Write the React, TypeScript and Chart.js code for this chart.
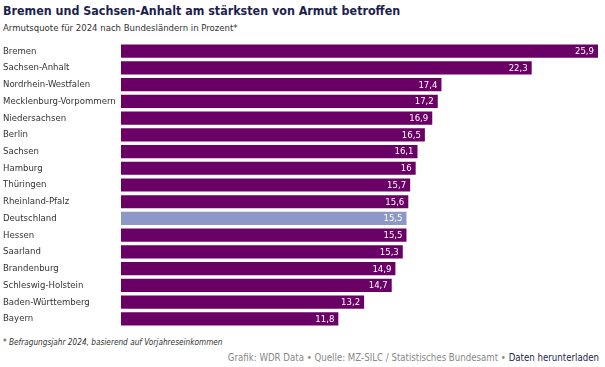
import React, { useEffect, useRef } from "react";
import { Chart, registerables } from "chart.js";

Chart.register(...registerables);

const categories = [
  "Bremen",
  "Sachsen-Anhalt",
  "Nordrhein-Westfalen",
  "Mecklenburg-Vorpommern",
  "Niedersachsen",
  "Berlin",
  "Sachsen",
  "Hamburg",
  "Thüringen",
  "Rheinland-Pfalz",
  "Deutschland",
  "Hessen",
  "Saarland",
  "Brandenburg",
  "Schleswig-Holstein",
  "Baden-Württemberg",
  "Bayern",
];

const values = [25.9, 22.3, 17.4, 17.2, 16.9, 16.5, 16.1, 16, 15.7, 15.6, 15.5, 15.5, 15.3, 14.9, 14.7, 13.2, 11.8];

const MAIN_COLOR = "#6a0066";
const HIGHLIGHT_COLOR = "#8e98c8";
const FONT = "'DejaVu Sans Condensed', 'DejaVu Sans', sans-serif";

const valueLabels = {
  id: "valueLabels",
  afterDatasetsDraw(chart: any) {
    const ctx = chart.ctx;
    const meta = chart.getDatasetMeta(0);
    ctx.save();
    ctx.font = `9.5px ${FONT}`;
    ctx.fillStyle = "#ffffff";
    ctx.textAlign = "right";
    ctx.textBaseline = "middle";
    meta.data.forEach((bar: any, i: number) => {
      const txt = String(values[i]).replace(".", ",");
      ctx.fillText(txt, bar.x - 4, bar.y + 0.5);
    });
    ctx.restore();
  },
};

export default function App() {
  const ref = useRef<HTMLCanvasElement>(null);

  useEffect(() => {
    document.body.style.margin = "0";
    const chart = new Chart(ref.current!, {
      type: "bar",
      data: {
        labels: categories,
        datasets: [
          {
            data: values,
            backgroundColor: categories.map((c) => (c === "Deutschland" ? HIGHLIGHT_COLOR : MAIN_COLOR)),
            borderWidth: 0,
            barPercentage: 0.79,
            categoryPercentage: 1,
          },
        ],
      },
      options: {
        indexAxis: "y",
        animation: false,
        responsive: false,
        maintainAspectRatio: false,
        layout: { padding: { left: 3, right: 7, top: 0, bottom: 0 } },
        plugins: {
          legend: { display: false },
          tooltip: { enabled: false },
          title: { display: false },
        },
        scales: {
          x: { display: false, min: 0, max: 25.9 },
          y: {
            grid: { display: false },
            border: { display: false },
            afterFit: (scale: any) => {
              scale.width = 118;
            },
            ticks: {
              crossAlign: "far",
              color: "#333333",
              font: { family: FONT, size: 9.5 },
              padding: 0,
            },
          },
        },
      },
      plugins: [valueLabels],
    });
    return () => chart.destroy();
  }, []);

  return (
    <div style={{ position: "relative", width: 605, height: 367, background: "#fff", fontFamily: FONT, overflow: "hidden" }}>
      <div style={{ position: "absolute", left: 3, top: 3, fontSize: 12.4, fontWeight: "bold", color: "#1c1f4f", whiteSpace: "nowrap" }}>
        Bremen und Sachsen-Anhalt am stärksten von Armut betroffen
      </div>
      <div style={{ position: "absolute", left: 3, top: 22, fontSize: 9.5, color: "#333", whiteSpace: "nowrap" }}>
        Armutsquote für 2024 nach Bundesländern in Prozent*
      </div>
      <canvas ref={ref} width={605} height={296} style={{ position: "absolute", left: 0, top: 37, width: 605, height: 296 }} />
      <div style={{ position: "absolute", left: 3, top: 337, fontSize: 8.2, fontStyle: "italic", color: "#333", whiteSpace: "nowrap" }}>
        * Befragungsjahr 2024, basierend auf Vorjahreseinkommen
      </div>
      <div style={{ position: "absolute", right: 6, top: 352, fontSize: 9.6, color: "#888", whiteSpace: "nowrap" }}>
        Grafik: WDR Data • Quelle: MZ-SILC / Statistisches Bundesamt • <span style={{ color: "#1c1f4f" }}>Daten herunterladen</span>
      </div>
    </div>
  );
}
